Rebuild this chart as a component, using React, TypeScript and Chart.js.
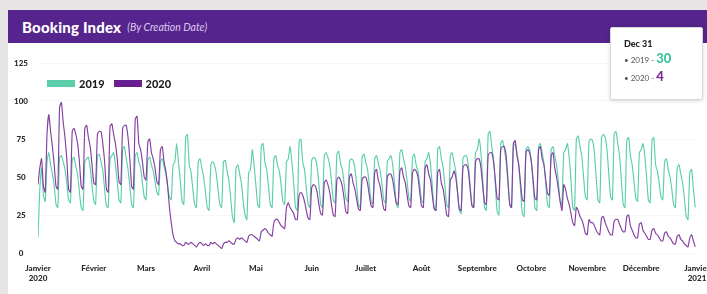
import React, { useEffect, useRef } from "react";
import { Chart, registerables } from "chart.js";

Chart.register(...registerables);

// Day index 0 = 1 Jan 2020 ... 365 = 31 Dec 2020
const monthTicks = [0, 31, 60, 91, 121, 152, 182, 213, 244, 274, 305, 335, 366];
const monthLabels: (string | string[])[] = [
  ["Janvier", "2020"], "Février", "Mars", "Avril", "Mai", "Juin", "Juillet",
  "Août", "Septembre", "Octobre", "Novembre", "Décembre", ["Janvier", "2021"],
];
const yTicks = [0, 25, 50, 75, 100, 125];

const series2019 = [
  10, 42, 56, 38, 34, 60, 66,
  58, 52, 44, 32, 30, 63, 64,
  60, 55, 46, 35, 33, 61, 63,
  57, 52, 40, 30, 28, 60, 62,
  63, 56, 45, 34, 32, 64, 65,
  60, 54, 42, 31, 30, 62, 64,
  66, 58, 47, 35, 33, 68, 70,
  62, 55, 44, 32, 30, 64, 66,
  60, 56, 46, 37, 35, 61, 63,
  58, 54, 47, 40, 38, 60, 62,
  57, 52, 44, 37, 35, 58, 60,
  72, 60, 48, 34, 32, 76, 78,
  58, 53, 42, 32, 30, 60, 62,
  56, 50, 40, 30, 28, 58, 60,
  58, 52, 42, 32, 30, 60, 61,
  54, 48, 36, 24, 20, 56, 58,
  52, 46, 34, 25, 22, 53, 55,
  68, 58, 45, 32, 30, 70, 72,
  60, 55, 44, 32, 30, 62, 64,
  58, 54, 45, 34, 32, 60, 62,
  70, 60, 46, 30, 28, 73, 75,
  60, 55, 43, 32, 30, 61, 63,
  62, 57, 45, 32, 30, 64, 66,
  63, 58, 47, 35, 33, 65, 67,
  59, 55, 46, 36, 34, 60, 62,
  61, 56, 44, 32, 30, 63, 65,
  60, 55, 45, 34, 32, 62, 64,
  59, 54, 46, 35, 33, 60, 62,
  64, 58, 46, 32, 30, 66, 68,
  62, 57, 47, 36, 34, 63, 65,
  58, 54, 45, 35, 33, 60, 62,
  66, 58, 44, 30, 28, 68, 70,
  62, 56, 44, 32, 30, 64, 66,
  60, 54, 40, 28, 26, 62, 64,
  64, 58, 45, 32, 30, 66, 68,
  75, 66, 48, 30, 28, 78, 80,
  70, 62, 45, 27, 25, 72, 74,
  68, 60, 46, 32, 30, 70, 72,
  66, 58, 42, 26, 24, 68, 70,
  68, 60, 45, 30, 28, 70, 72,
  66, 59, 46, 32, 30, 68, 70,
  64, 58, 47, 34, 32, 66, 68,
  72, 63, 48, 30, 28, 75, 77,
  70, 64, 50, 37, 35, 73, 75,
  74, 66, 50, 35, 33, 76, 78,
  76, 68, 52, 37, 35, 78, 80,
  72, 64, 48, 32, 30, 74, 76,
  64, 58, 47, 36, 34, 66, 68,
  72, 64, 50, 35, 33, 74, 76,
  58, 54, 46, 37, 35, 60, 62,
  55, 50, 42, 32, 30, 56, 58,
  52, 46, 36, 24, 22, 53, 55,
  42, 30,
];

const series2020 = [
  45, 56, 62, 44, 40, 78, 91,
  80, 70, 58, 44, 42, 96, 99,
  86, 76, 62, 42, 40, 80, 82,
  78, 72, 60, 44, 42, 82, 84,
  76, 70, 58, 46, 45, 78, 80,
  80, 72, 60, 42, 40, 83, 85,
  78, 72, 62, 47, 45, 82, 84,
  84, 76, 62, 44, 42, 88, 90,
  72, 68, 60, 50, 48, 73, 75,
  66, 62, 56, 47, 45, 68, 70,
  60, 54, 44, 30, 20, 12, 8,
  7, 6, 6, 5, 5, 7, 6,
  6, 7, 6, 5, 4, 6, 7,
  6, 5, 6, 5, 5, 7, 6,
  7, 6, 5, 4, 3, 6, 7,
  7, 8, 7, 6, 6, 9, 10,
  9, 10, 9, 8, 7, 11, 12,
  12, 11, 10, 9, 8, 14, 15,
  16, 15, 13, 12, 11, 20, 22,
  22, 20, 18, 17, 16, 30, 33,
  30, 28, 26, 22, 22, 38, 40,
  38, 34, 28, 23, 22, 43, 45,
  44, 40, 32, 26, 25, 46, 48,
  45, 40, 32, 25, 24, 48, 50,
  48, 44, 36, 27, 26, 50, 52,
  46, 42, 35, 29, 28, 48, 50,
  50, 46, 38, 31, 30, 53, 55,
  48, 44, 36, 29, 28, 50, 52,
  52, 48, 40, 33, 32, 54, 56,
  50, 46, 38, 31, 30, 53, 55,
  54, 50, 40, 31, 30, 56, 58,
  52, 48, 38, 29, 28, 53, 55,
  46, 42, 34, 25, 24, 48, 50,
  54, 50, 40, 29, 28, 56, 58,
  58, 54, 42, 31, 30, 60, 62,
  62, 56, 44, 33, 32, 64, 66,
  66, 60, 48, 36, 35, 68, 70,
  70, 64, 48, 32, 30, 72, 74,
  64, 58, 46, 35, 34, 66, 68,
  66, 60, 48, 36, 35, 68, 70,
  62, 58, 48, 39, 38, 64, 66,
  56, 50, 42, 34, 28, 45, 42,
  36, 32, 26, 20, 18, 30, 28,
  24, 22, 18, 13, 12, 22, 20,
  20, 18, 15, 13, 12, 23, 24,
  20, 17, 14, 12, 12, 21, 22,
  22, 19, 16, 14, 14, 24, 25,
  18, 15, 12, 10, 10, 19, 20,
  15, 13, 11, 9, 9, 15, 16,
  13, 12, 10, 8, 8, 13, 14,
  11, 10, 8, 6, 6, 11, 12,
  9, 8, 6, 5, 4, 10, 12,
  8, 4,
];

const GREEN = "#5ccfaa";
const PURPLE = "#8440a0";
const HEADER = "#55248c";
const FONT = "Lato, 'Open Sans', sans-serif";

export default function App() {
  const canvasRef = useRef<HTMLCanvasElement | null>(null);

  useEffect(() => {
    if (!canvasRef.current) return;
    const chart = new Chart(canvasRef.current, {
      type: "line",
      data: {
        datasets: [
          {
            label: "2020",
            data: series2020.map((v, i) => ({ x: i, y: v })),
            borderColor: PURPLE,
            borderWidth: 1.15,
            pointRadius: 0,
            tension: 0.2,
            order: 0,
          },
          {
            label: "2019",
            data: series2019.map((v, i) => ({ x: i, y: v })),
            borderColor: GREEN,
            borderWidth: 1.15,
            pointRadius: 0,
            tension: 0.2,
            order: 1,
          },
        ],
      },
      options: {
        animation: false,
        responsive: false,
        layout: { padding: { top: 20, right: 10, left: 0, bottom: 0 } },
        plugins: { legend: { display: false }, tooltip: { enabled: false } },
        scales: {
          x: {
            type: "linear",
            min: 0,
            max: 366,
            grid: { display: false },
            border: { display: false },
            afterBuildTicks: (s: any) => {
              s.ticks = monthTicks.map((v) => ({ value: v }));
            },
            afterFit: (s: any) => {
              s.height = 41;
              s.paddingLeft = 0;
              s.paddingRight = 0;
            },
            ticks: {
              autoSkip: false,
              maxRotation: 0,
              padding: 3,
              color: "#2a2a2a",
              font: { family: FONT, weight: 900, size: 8, lineHeight: 1.2 },
              callback: (v: any) => {
                const idx = monthTicks.indexOf(Number(v));
                return idx >= 0 ? monthLabels[idx] : "";
              },
            },
          },
          y: {
            min: 0,
            max: 125,
            afterBuildTicks: (s: any) => {
              s.ticks = yTicks.map((v) => ({ value: v }));
            },
            afterFit: (s: any) => {
              s.width = 30;
            },
            grid: { color: "#f7f7f7", drawTicks: false },
            border: { display: false },
            ticks: {
              padding: 10,
              crossAlign: "center",
              color: "#2a2a2a",
              font: { family: FONT, weight: 900, size: 8 },
            },
          },
        },
      } as any,
    });
    return () => chart.destroy();
  }, []);

  return (
    <div style={{ position: "fixed", inset: 0, background: "#e6e4e4", overflow: "hidden", fontFamily: FONT }}>
      <div style={{ position: "absolute", left: 8, top: 10, width: 699, height: 284, background: "#ffffff" }}>
        <div
          style={{
            height: 33,
            background: HEADER,
            display: "flex",
            alignItems: "center",
            paddingLeft: 14,
            boxSizing: "border-box",
          }}
        >
          <span style={{ color: "#ffffff", fontWeight: 900, fontSize: 15, letterSpacing: 0.2 }}>Booking Index</span>
          <span style={{ color: "#dccbf2", fontStyle: "italic", fontSize: 10.5, marginLeft: 6 }}>(By Creation Date)</span>
        </div>
        <canvas ref={canvasRef} width={699} height={251} style={{ display: "block" }} />
        <div
          style={{
            position: "absolute",
            left: 39,
            top: 67,
            display: "flex",
            alignItems: "center",
            fontWeight: 900,
            fontSize: 11,
            color: "#1e1e1e",
          }}
        >
          <span style={{ width: 28, height: 7, background: GREEN, display: "inline-block", marginRight: 4 }} />
          <span>2019</span>
          <span style={{ width: 28, height: 7, background: "#6a1f90", display: "inline-block", marginLeft: 9, marginRight: 4 }} />
          <span>2020</span>
        </div>
      </div>
      <div
        style={{
          position: "absolute",
          left: 610,
          top: 27,
          width: 93,
          height: 73,
          background: "#ffffff",
          border: "1px solid #d8d8d8",
          borderRadius: 2,
          boxShadow: "0 1px 4px rgba(0,0,0,0.15)",
          boxSizing: "border-box",
          paddingLeft: 13,
          paddingTop: 10,
          color: "#222",
        }}
      >
        <div style={{ fontWeight: 900, fontSize: 9, lineHeight: "12px" }}>Dec 31</div>
        <div style={{ fontSize: 8, color: "#555", lineHeight: "16px" }}>
          • 2019 - <span style={{ color: "#3cc29a", fontWeight: 900, fontSize: 13 }}>30</span>
        </div>
        <div style={{ fontSize: 8, color: "#555", lineHeight: "16px" }}>
          • 2020 - <span style={{ color: "#7a2b96", fontWeight: 900, fontSize: 13 }}>4</span>
        </div>
      </div>
    </div>
  );
}
